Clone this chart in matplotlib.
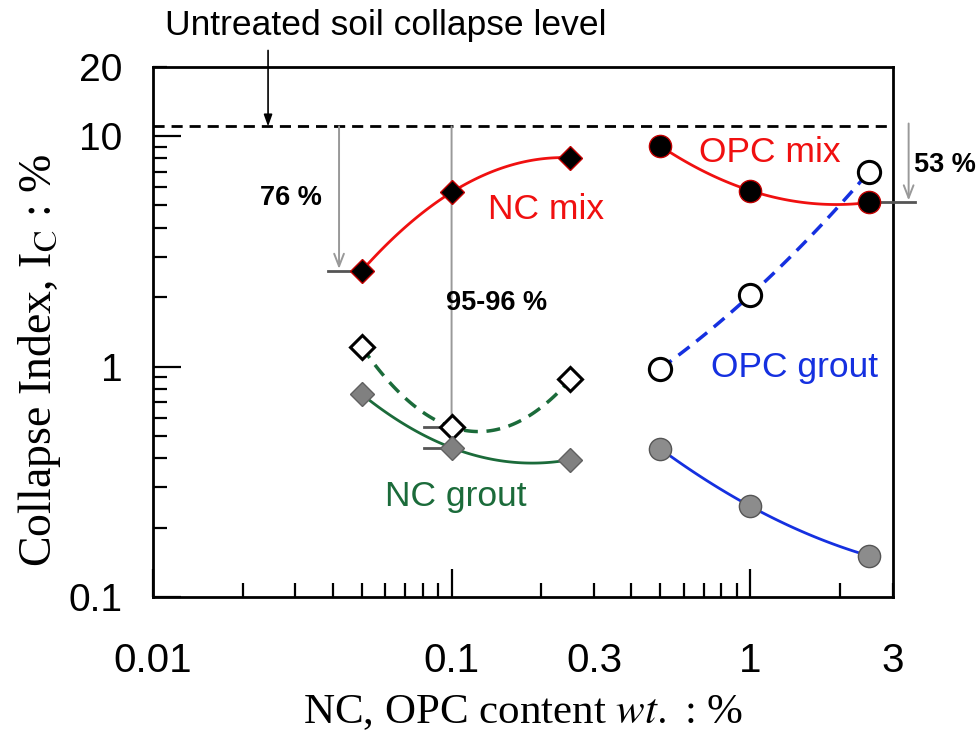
import numpy as np
import matplotlib
matplotlib.use("Agg")
import matplotlib.pyplot as plt
from matplotlib.ticker import FixedLocator, FuncFormatter

plt.rcParams['font.family'] = ['Liberation Sans', 'DejaVu Sans']
plt.rcParams['mathtext.fontset'] = 'stix'

# data
nc_x = [0.05, 0.1, 0.25]
nc_mix = [2.6, 5.7, 8.05]
nc_grout_open = [1.22, 0.547, 0.88]
nc_grout_fill = [0.76, 0.445, 0.395]

opc_x = [0.5, 1.0, 2.5]
opc_mix = [9.05, 5.8, 5.15]
opc_grout_open = [0.98, 2.04, 7.0]
opc_grout_fill = [0.44, 0.248, 0.151]

untreated = 11.0

red = '#f01010'
green = '#1b6b3a'
blue = '#1530e0'


def smooth(x, y):
    # quadratic through the points in log-log space, just for drawing the curve
    lx, ly = np.log10(x), np.log10(y)
    p = np.polyfit(lx, ly, 2)
    xx = np.linspace(lx[0], lx[-1], 100)
    return 10**xx, 10**np.polyval(p, xx)


fig = plt.figure(figsize=(9.8, 7.4), dpi=100)
ax = fig.add_axes([0.156, 0.193, 0.755, 0.717])
ax.set_xscale('log')
ax.set_yscale('log')
ax.set_xlim(0.01, 3)
ax.set_ylim(0.1, 20)

# curves
ax.plot(*smooth(nc_x, nc_mix), color=red, lw=2, zorder=2)
ax.plot(*smooth(nc_x, nc_grout_open), color=green, lw=2.5, ls=(0, (4, 2.5)), zorder=2)
ax.plot(*smooth(nc_x, nc_grout_fill), color=green, lw=2, zorder=2)
ax.plot(*smooth(opc_x, opc_mix), color=red, lw=2, zorder=2)
ax.plot(*smooth(opc_x, opc_grout_open), color=blue, lw=2.5, ls=(0, (4, 2.5)), zorder=2)
ax.plot(*smooth(opc_x, opc_grout_fill), color=blue, lw=2, zorder=2)

# markers
ax.plot(nc_x, nc_mix, 'D', ms=12.5, mfc='black', mec='#c00000', mew=1, ls='none', zorder=4)
ax.plot(nc_x, nc_grout_open, 'D', ms=12.5, mfc='white', mec='black', mew=2.2, ls='none', zorder=4)
ax.plot(nc_x, nc_grout_fill, 'D', ms=12.5, mfc='#808080', mec='#606060', mew=1, ls='none', zorder=4)
ax.plot(opc_x, opc_mix, 'o', ms=16, mfc='black', mec='#c00000', mew=1, ls='none', zorder=4)
ax.plot(opc_x, opc_grout_open, 'o', ms=16, mfc='white', mec='black', mew=2.2, ls='none', zorder=4)
ax.plot(opc_x, opc_grout_fill, 'o', ms=16, mfc='#8c8c8c', mec='#555555', mew=1, ls='none', zorder=4)

# untreated level
ax.axhline(untreated, color='black', lw=2, ls=(0, (4, 2.5)), zorder=3)

# reduction arrows
gray_arrow = dict(arrowstyle='->,head_length=0.9,head_width=0.35', color='#999999',
                  lw=1.4, shrinkA=0, shrinkB=0)
ax.annotate('', xy=(0.042, nc_mix[0] * 1.02), xytext=(0.042, untreated),
            arrowprops=gray_arrow, zorder=3)
ax.plot([0.0385, nc_x[0]], [nc_mix[0], nc_mix[0]], color='#555555', lw=2, zorder=3)
ax.text(0.0229, 5.4, '76 %', fontsize=19.5, fontweight='bold', va='center')

ax.annotate('', xy=(0.1, nc_grout_fill[1] * 1.05), xytext=(0.1, untreated),
            arrowprops=gray_arrow, zorder=3)
ax.plot([0.081, nc_x[1]], [nc_grout_open[1]] * 2, color='#555555', lw=2, zorder=3)
ax.plot([0.081, nc_x[1]], [nc_grout_fill[1]] * 2, color='#555555', lw=2, zorder=3)
ax.text(0.0955, 1.88, '95-96 %', fontsize=19.5, fontweight='bold', va='center')

ax.annotate('', xy=(3.39, opc_mix[2] * 1.02), xytext=(3.39, untreated * 1.03),
            arrowprops=gray_arrow, zorder=3, annotation_clip=False)
ax.plot([2.75, 3.55], [opc_mix[2]] * 2, color='#555555', lw=2, zorder=3, clip_on=False)
ax.text(3.52, 7.5, '53 %', fontsize=19.5, fontweight='bold', va='center')

# series labels
ax.text(0.132, 4.8, 'NC mix', color=red, fontsize=25.5, va='center')
ax.text(0.675, 8.45, 'OPC mix', color=red, fontsize=25.5, va='center')
ax.text(0.74, 0.99, 'OPC grout', color=blue, fontsize=25.5, va='center')
ax.text(0.06, 0.274, 'NC grout', color=green, fontsize=25.5, va='center')

# untreated label + arrow
ax.annotate('', xy=(0.0243, untreated), xytext=(0.0243, 23.5),
            arrowprops=dict(arrowstyle='-|>,head_length=0.7,head_width=0.25',
                            color='black', lw=1.2, shrinkA=0, shrinkB=0),
            annotation_clip=False)
fig.text(165 / 980, 1 - 25 / 740, 'Untreated soil collapse level', fontsize=25.5, va='center')

# ticks
ax.xaxis.set_major_locator(FixedLocator([0.01, 0.1, 1]))
ax.xaxis.set_minor_locator(FixedLocator([k * d for d in (0.01, 0.1, 1) for k in range(2, 10)
                                         if k * d <= 3]))
ax.yaxis.set_major_locator(FixedLocator([0.1, 1, 10]))
ax.yaxis.set_minor_locator(FixedLocator([k * d for d in (0.1, 1, 10) for k in range(2, 10)
                                         if k * d <= 20]))
ax.xaxis.set_major_formatter(FuncFormatter(lambda v, p: '%g' % v))
ax.yaxis.set_major_formatter(FuncFormatter(lambda v, p: '%g' % v))
ax.xaxis.set_minor_formatter(FuncFormatter(
    lambda v, p: '%g' % v if any(np.isclose(v, t) for t in (0.3, 3)) else ''))
ax.yaxis.set_minor_formatter(FuncFormatter(
    lambda v, p: '%g' % v if np.isclose(v, 20) else ''))

ax.tick_params(which='both', direction='in', top=False, right=False, width=1.6)
ax.tick_params(axis='x', which='both', labelsize=29, pad=32)
ax.tick_params(axis='y', which='both', labelsize=28, pad=22)
ax.tick_params(which='major', length=20)
ax.tick_params(which='minor', length=10)
for s in ax.spines.values():
    s.set_linewidth(2)

ax.set_xlabel('NC, OPC content $\\mathit{wt.}$ : %', fontsize=31,
              family='Liberation Serif', labelpad=10)
ax.set_ylabel('Collapse Index, I$_\\mathrm{C}$ : %', fontsize=33,
              family='Liberation Serif')
ax.yaxis.set_label_coords(-0.122, 0.447)

fig.savefig('out.png', dpi=100)
